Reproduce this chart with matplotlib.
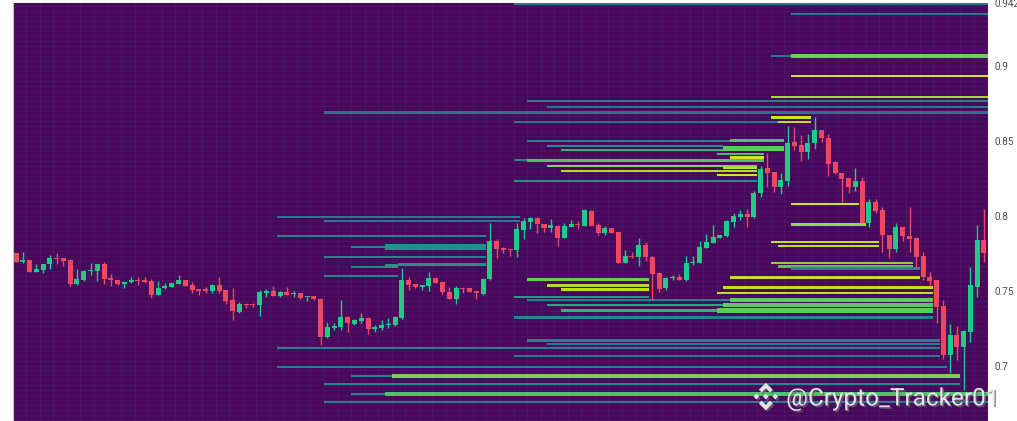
import numpy as np
import matplotlib.pyplot as plt
import matplotlib.patheffects as pe
from matplotlib.patches import Polygon

# region data
# candles (OHLC), one per bar
opens = [0.7749, 0.7693, 0.7705, 0.7627, 0.7636, 0.7676, 0.7716, 0.7716, 0.7705, 0.7543,
         0.7573, 0.7631, 0.7631, 0.7676, 0.7583, 0.7571, 0.7545, 0.7556, 0.7571, 0.7571,
         0.7567, 0.7471, 0.7516, 0.7525, 0.7545, 0.7571, 0.7538, 0.7509, 0.7509, 0.7500,
         0.7538, 0.7505, 0.7438, 0.7360, 0.7413, 0.7411, 0.7403, 0.7483, 0.7498, 0.7465,
         0.7491, 0.7476, 0.7483, 0.7456, 0.7465, 0.7443, 0.7193, 0.7249, 0.7260, 0.7323,
         0.7278, 0.7300, 0.7320, 0.7243, 0.7249, 0.7269, 0.7269, 0.7316, 0.7571, 0.7545,
         0.7523, 0.7533, 0.7583, 0.7556, 0.7493, 0.7445, 0.7520, 0.7516, 0.7500, 0.7478,
         0.7576, 0.7831, 0.7783, 0.7776, 0.7771, 0.7905, 0.7960, 0.7987, 0.7945, 0.7916,
         0.7933, 0.7853, 0.7927, 0.7945, 0.7933, 0.8033, 0.7940, 0.7887, 0.7918, 0.7889,
         0.7687, 0.7733, 0.7723, 0.7805, 0.7727, 0.7620, 0.7516, 0.7583, 0.7593, 0.7571,
         0.7683, 0.7687, 0.7787, 0.7820, 0.7853, 0.7865, 0.7960, 0.7993, 0.8013, 0.7989,
         0.8153, 0.8316, 0.8291, 0.8189, 0.8233, 0.8493, 0.8471, 0.8427, 0.8483, 0.8571,
         0.8520, 0.8356, 0.8283, 0.8249, 0.8189, 0.8231, 0.7953, 0.8093, 0.8038, 0.7871,
         0.7778, 0.7923, 0.7867, 0.7853, 0.7731, 0.7593, 0.7571, 0.7398, 0.7071, 0.7205,
         0.7123, 0.7223, 0.7527, 0.7838]
highs = [0.7752, 0.7760, 0.7708, 0.7678, 0.7680, 0.7738, 0.7749, 0.7718, 0.7711, 0.7645,
         0.7640, 0.7683, 0.7680, 0.7689, 0.7609, 0.7573, 0.7560, 0.7589, 0.7589, 0.7589,
         0.7578, 0.7565, 0.7549, 0.7553, 0.7605, 0.7573, 0.7560, 0.7511, 0.7527, 0.7543,
         0.7589, 0.7507, 0.7516, 0.7427, 0.7420, 0.7420, 0.7505, 0.7509, 0.7531, 0.7498,
         0.7527, 0.7498, 0.7485, 0.7467, 0.7467, 0.7449, 0.7293, 0.7283, 0.7438, 0.7331,
         0.7309, 0.7353, 0.7323, 0.7271, 0.7305, 0.7316, 0.7331, 0.7649, 0.7593, 0.7547,
         0.7540, 0.7627, 0.7589, 0.7560, 0.7523, 0.7529, 0.7527, 0.7518, 0.7505, 0.7583,
         0.7949, 0.7845, 0.7793, 0.7778, 0.7949, 0.7983, 0.7989, 0.7989, 0.7947, 0.7976,
         0.7936, 0.7949, 0.7971, 0.7967, 0.8045, 0.8038, 0.7949, 0.7933, 0.7920, 0.7891,
         0.7771, 0.7760, 0.7849, 0.7827, 0.7731, 0.7627, 0.7593, 0.7605, 0.7609, 0.7731,
         0.7731, 0.7831, 0.7878, 0.7938, 0.7875, 0.7969, 0.8016, 0.8038, 0.8043, 0.8167,
         0.8331, 0.8416, 0.8295, 0.8287, 0.8600, 0.8593, 0.8538, 0.8549, 0.8660, 0.8575,
         0.8549, 0.8360, 0.8287, 0.8253, 0.8320, 0.8260, 0.8109, 0.8109, 0.8060, 0.7873,
         0.7949, 0.7925, 0.8060, 0.7860, 0.7760, 0.7627, 0.7575, 0.7438, 0.7278, 0.7265,
         0.7238, 0.7656, 0.7938, 0.8043]
lows = [0.7690, 0.7685, 0.7624, 0.7623, 0.7616, 0.7645, 0.7676, 0.7667, 0.7533, 0.7540,
        0.7568, 0.7605, 0.7565, 0.7543, 0.7533, 0.7540, 0.7520, 0.7554, 0.7538, 0.7551,
        0.7453, 0.7469, 0.7513, 0.7522, 0.7543, 0.7529, 0.7487, 0.7471, 0.7487, 0.7487,
        0.7487, 0.7411, 0.7305, 0.7349, 0.7383, 0.7393, 0.7331, 0.7456, 0.7462, 0.7456,
        0.7469, 0.7460, 0.7443, 0.7433, 0.7440, 0.7138, 0.7185, 0.7238, 0.7238, 0.7227,
        0.7272, 0.7283, 0.7211, 0.7227, 0.7236, 0.7249, 0.7267, 0.7313, 0.7505, 0.7518,
        0.7505, 0.7500, 0.7551, 0.7476, 0.7443, 0.7409, 0.7487, 0.7491, 0.7443, 0.7471,
        0.7569, 0.7716, 0.7749, 0.7731, 0.7727, 0.7843, 0.7909, 0.7883, 0.7893, 0.7889,
        0.7800, 0.7849, 0.7925, 0.7909, 0.7929, 0.7931, 0.7871, 0.7871, 0.7885, 0.7683,
        0.7683, 0.7716, 0.7665, 0.7700, 0.7438, 0.7493, 0.7505, 0.7571, 0.7569, 0.7565,
        0.7671, 0.7683, 0.7783, 0.7816, 0.7851, 0.7860, 0.7927, 0.7971, 0.7927, 0.7985,
        0.8123, 0.8193, 0.8160, 0.8143, 0.8198, 0.8438, 0.8367, 0.8376, 0.8443, 0.8493,
        0.8265, 0.8280, 0.8093, 0.8149, 0.8167, 0.7951, 0.7927, 0.8016, 0.7760, 0.7720,
        0.7760, 0.7833, 0.7760, 0.7660, 0.7571, 0.7531, 0.7287, 0.7043, 0.6953, 0.7038,
        0.6838, 0.7160, 0.7456, 0.7693]
closes = [0.7693, 0.7707, 0.7627, 0.7645, 0.7678, 0.7720, 0.7709, 0.7698, 0.7543, 0.7578,
          0.7633, 0.7640, 0.7676, 0.7578, 0.7569, 0.7543, 0.7558, 0.7571, 0.7565, 0.7560,
          0.7471, 0.7516, 0.7531, 0.7551, 0.7571, 0.7531, 0.7505, 0.7500, 0.7500, 0.7538,
          0.7498, 0.7433, 0.7367, 0.7409, 0.7403, 0.7403, 0.7489, 0.7500, 0.7465, 0.7493,
          0.7471, 0.7483, 0.7453, 0.7465, 0.7443, 0.7193, 0.7256, 0.7265, 0.7323, 0.7283,
          0.7305, 0.7320, 0.7243, 0.7260, 0.7271, 0.7276, 0.7323, 0.7571, 0.7538, 0.7523,
          0.7538, 0.7583, 0.7553, 0.7489, 0.7445, 0.7516, 0.7513, 0.7493, 0.7483, 0.7576,
          0.7831, 0.7778, 0.7773, 0.7771, 0.7909, 0.7967, 0.7987, 0.7945, 0.7916, 0.7938,
          0.7853, 0.7933, 0.7945, 0.7936, 0.8038, 0.7933, 0.7883, 0.7920, 0.7887, 0.7687,
          0.7733, 0.7727, 0.7805, 0.7723, 0.7611, 0.7509, 0.7583, 0.7593, 0.7571, 0.7687,
          0.7693, 0.7793, 0.7825, 0.7860, 0.7871, 0.7965, 0.7998, 0.8013, 0.7993, 0.8153,
          0.8313, 0.8283, 0.8189, 0.8238, 0.8487, 0.8467, 0.8427, 0.8487, 0.8571, 0.8516,
          0.8349, 0.8283, 0.8245, 0.8189, 0.8233, 0.7953, 0.8093, 0.8033, 0.7869, 0.7778,
          0.7923, 0.7865, 0.7843, 0.7727, 0.7589, 0.7567, 0.7393, 0.7071, 0.7205, 0.7123,
          0.7233, 0.7538, 0.7838, 0.7749]

# liquidation levels: price, first bar, last bar, heat (0..1), band height in price
lvl_price = [0.9411, 0.9349, 0.9067, 0.9067, 0.8931, 0.8791, 0.8767, 0.8728, 0.8689, 0.8655,
             0.8627, 0.8627, 0.8501, 0.8501, 0.8465, 0.8438, 0.8449, 0.8413, 0.8373, 0.8368,
             0.8388, 0.8333, 0.8321, 0.8298, 0.8271, 0.8231,
             0.8079, 0.7943, 0.7993, 0.7967, 0.7865, 0.7827, 0.7800, 0.7790, 0.7790, 0.7727,
             0.7687, 0.7661, 0.7649, 0.7661, 0.7664, 0.7676, 0.7598, 0.7588, 0.7575, 0.7535,
             0.7509, 0.7521, 0.7485, 0.7460, 0.7438, 0.7438, 0.7405, 0.7405, 0.7368, 0.7368,
             0.7321, 0.7168, 0.7143, 0.7116, 0.7065, 0.6991, 0.6929, 0.6929, 0.6877, 0.6811,
             0.6811, 0.6760]
lvl_start = [73.5, 114.5, 111.5, 114.5, 114.5, 111.5, 75.5, 78.5, 45.5, 111.5,
             73.5, 112.5, 75.5, 105.5, 78.5, 80.5, 104.5, 103.5, 73.5, 75.5,
             105.5, 78.5, 104.5, 80.5, 103.5, 73.5,
             114.5, 114.5, 38.5, 45.5, 38.5, 111.5, 112.5, 49.5, 54.5, 45.5,
             111.5, 112.5, 114.5, 49.5, 54.5, 56.5, 45.5, 105.5, 75.5, 78.5,
             80.5, 104.5, 103.5, 73.5, 75.5, 105.5, 78.5, 104.5, 80.5, 103.5,
             73.5, 75.5, 78.5, 38.5, 73.5, 38.5, 49.5, 55.5, 45.5, 49.5,
             54.5, 45.5]
lvl_end = [144, 144, 114.5, 144, 144, 144, 144, 144, 144, 117.5,
           112.5, 117.5, 105.5, 113.5, 104.5, 104.5, 113.5, 110.5, 75.5, 110.5,
           110.5, 109.5, 109.5, 109.5, 109.5, 109.5,
           124.5, 125.5, 74.5, 74.5, 69.5, 127.5, 127.5, 54.5, 69.5, 69.5,
           132.5, 132.5, 133.5, 54.5, 56.5, 69.5, 56.5, 133.5, 93.5, 93.5,
           93.5, 135.5, 135.5, 93.5, 105.5, 135.5, 104.5, 135.5, 103.5, 135.5,
           135.5, 136.5, 136.5, 136.5, 136.5, 137.5, 55.5, 139.5, 139.5, 54.5,
           144, 144]
lvl_heat = [0.40, 0.42, 0.40, 0.78, 0.93, 0.85, 0.42, 0.40, 0.38, 0.93,
            0.40, 0.90, 0.45, 0.72, 0.48, 0.65, 0.75, 0.70, 0.45, 0.72,
            0.93, 0.82, 0.90, 0.88, 0.93, 0.50,
            0.93, 0.85, 0.40, 0.40, 0.45, 0.90, 0.90, 0.45, 0.50, 0.45,
            0.82, 0.72, 0.45, 0.45, 0.50, 0.50, 0.45, 0.90, 0.78, 0.88,
            0.90, 0.90, 0.90, 0.55, 0.45, 0.75, 0.60, 0.75, 0.65, 0.75,
            0.45, 0.42, 0.42, 0.42, 0.42, 0.42, 0.45, 0.80, 0.45, 0.45,
            0.72, 0.42]
lvl_band = [0.0015, 0.0015, 0.0015, 0.0026, 0.0016, 0.0016, 0.0015, 0.0015, 0.0015, 0.0016,
            0.0015, 0.0016, 0.0015, 0.0018, 0.0015, 0.0015, 0.0034, 0.0015, 0.0015, 0.0024,
            0.0016, 0.0015, 0.0015, 0.0015, 0.0015, 0.0016,
            0.0016, 0.0016, 0.0015, 0.0015, 0.0015, 0.0016, 0.0016, 0.0015, 0.0038, 0.0015,
            0.0016, 0.0018, 0.0015, 0.0015, 0.0030, 0.0015, 0.0015, 0.0016, 0.0016, 0.0016,
            0.0016, 0.0016, 0.0016, 0.0015, 0.0015, 0.0028, 0.0015, 0.0028, 0.0015, 0.0028,
            0.0015, 0.0015, 0.0015, 0.0015, 0.0015, 0.0015, 0.0015, 0.0028, 0.0015, 0.0015,
            0.0028, 0.0015]

y_ticks = [0.7, 0.75, 0.8, 0.85, 0.9, 0.942]
y_tick_labels = ['0.7', '0.75', '0.8', '0.85', '0.9', '0.942']
# endregion

fig = plt.figure(figsize=(10.17, 4.21), dpi=100, facecolor='white')
ax = fig.add_axes([0.0128, 0.0, 0.9587, 0.9929])
ax.set_facecolor('#48095d')

x = np.arange(len(opens))

# faint heatmap grid
for gy in np.arange(0.6635, 0.942, 0.00333):
    ax.axhline(gy, color='#5a2872', lw=0.6, alpha=0.35, zorder=0)
for gx in np.arange(-0.5, 144, 2):
    ax.axvline(gx, color='#5a2872', lw=0.6, alpha=0.35, zorder=0)

# liquidation levels
cmap = plt.get_cmap('viridis')
lvl_price = np.array(lvl_price)
lvl_start = np.array(lvl_start)
lvl_end = np.array(lvl_end)
ax.barh(lvl_price, lvl_end - lvl_start, left=lvl_start, height=lvl_band,
        color=cmap(np.array(lvl_heat)), linewidth=0, zorder=1)

# candles
o = np.array(opens)
c = np.array(closes)
up = c >= o
cols = np.where(up, '#1ecb87', '#f0465e')
body_low = np.minimum(o, c)
body_h = np.maximum(np.abs(c - o), 0.0008)
ax.vlines(x, lows, highs, colors=cols, lw=1.0, zorder=3)
ax.bar(x, body_h, bottom=body_low, width=0.74, color=cols, linewidth=0, zorder=4)

ax.set_xlim(-0.45, 143.6)
ax.set_ylim(0.6631, 0.9418)

ax.yaxis.tick_right()
ax.set_yticks(y_ticks)
ax.set_yticklabels(y_tick_labels, fontsize=7.2, color='#4d4d4d', family='Roboto')
ax.tick_params(axis='y', length=0, pad=5)
ax.set_xticks([])
for side in ['top', 'right', 'bottom']:
    ax.spines[side].set_visible(False)
ax.spines['left'].set_color('#c8c0cc')
ax.spines['left'].set_linewidth(0.8)

# watermark
shadow = [pe.withSimplePatchShadow(offset=(1.2, -1.2), shadow_rgbFace='#6a6a6a', alpha=0.7)]
fig.text(0.773, 0.037, '@Crypto_Tracker01', fontsize=17.5, family='Roboto',
         color='#f2f2f2', alpha=0.92, ha='left', va='baseline', path_effects=shadow)

logo = fig.add_axes([0.738, 0.022, 0.03, 0.072])
logo.set_xlim(-1.1, 1.1)
logo.set_ylim(-1.1, 1.1)
logo.axis('off')
s = 0.2
shapes = [
    [(0, s), (s, 0), (0, -s), (-s, 0)],
    [(-0.68, s), (-0.68 + s, 0), (-0.68, -s), (-0.68 - s, 0)],
    [(0.68, s), (0.68 + s, 0), (0.68, -s), (0.68 - s, 0)],
    [(0, 1.0), (0.5, 0.5), (0.3, 0.3), (0, 0.6), (-0.3, 0.3), (-0.5, 0.5)],
    [(0, -1.0), (0.5, -0.5), (0.3, -0.3), (0, -0.6), (-0.3, -0.3), (-0.5, -0.5)],
]
for pts in shapes:
    logo.add_patch(Polygon(pts, closed=True, facecolor='#f2f2f2', edgecolor='none',
                           alpha=0.92, path_effects=shadow))

fig.savefig('out.png', dpi=100, facecolor='white')
